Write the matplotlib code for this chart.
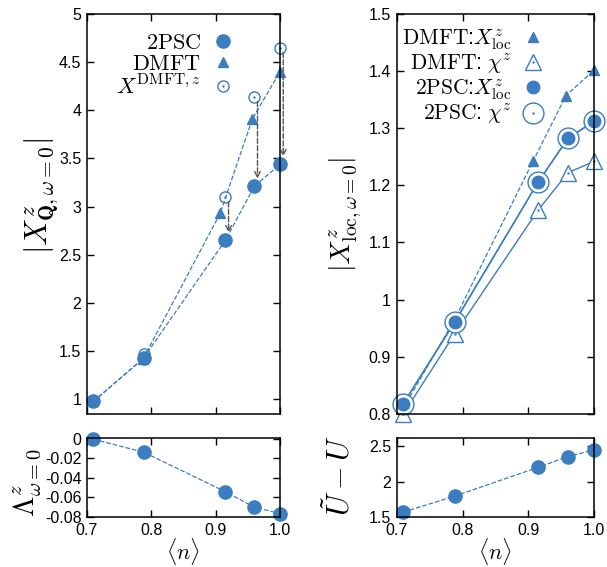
import numpy as np
import matplotlib
matplotlib.use('Agg')
import matplotlib.pyplot as plt
from matplotlib.legend_handler import HandlerTuple

plt.rcParams['font.family'] = ['Liberation Sans', 'DejaVu Sans']
plt.rcParams['mathtext.fontset'] = 'cm'

C = '#3b7dc0'

# 데이터
n_2psc = [0.71, 0.788, 0.915, 0.96, 1.0]
n_dmft = [0.71, 0.787, 0.907, 0.957, 1.0]

chiQ_2psc = [0.98, 1.43, 2.65, 3.21, 3.44]
chiQ_dmft = [0.98, 1.42, 2.93, 3.91, 4.40]
chiQ_xdmft = [0.98, 1.47, 3.10, 4.14, 4.65]

lam = [-0.0003, -0.0135, -0.054, -0.070, -0.0765]

xloc_dmft = [0.81, 0.963, 1.242, 1.357, 1.402]
chi_dmft = [0.80, 0.94, 1.157, 1.222, 1.242]
xloc_2psc = [0.818, 0.960, 1.206, 1.282, 1.312]
chi_2psc = [0.818, 0.961, 1.206, 1.282, 1.313]

ut_minus_u = [1.57, 1.795, 2.205, 2.357, 2.452]

xticks = [0.7, 0.8, 0.9, 1.0]

fig = plt.figure(figsize=(6.07, 5.67), dpi=100)
ax1 = fig.add_axes([0.1433, 0.270, 0.318, 0.7055])
ax2 = fig.add_axes([0.1433, 0.0882, 0.318, 0.1393])
ax3 = fig.add_axes([0.6535, 0.270, 0.3255, 0.7055])
ax4 = fig.add_axes([0.6535, 0.0882, 0.3255, 0.1393])

TUP = {tuple: HandlerTuple(ndivide=1, pad=0)}


def style(ax):
    ax.tick_params(direction='in', top=True, right=True, labelsize=11.5, length=5, width=1, pad=4)
    for s in ax.spines.values():
        s.set_linewidth(1.1)
    ax.set_xlim(0.7, 1.0)
    ax.set_xticks(xticks)


# 왼쪽 위
style(ax1)
ax1.plot(n_2psc, chiQ_2psc, '--', color=C, lw=0.9, clip_on=False)
ax1.plot(n_dmft, chiQ_dmft, '--', color=C, lw=0.9, clip_on=False)
h1, = ax1.plot(n_2psc, chiQ_2psc, 'o', color=C, ms=9.5, ls='none', clip_on=False)
h2, = ax1.plot(n_dmft, chiQ_dmft, '^', color=C, ms=6.5, ls='none', clip_on=False)
h3a, = ax1.plot(n_2psc, chiQ_xdmft, 'o', mfc='none', mec=C, ms=8, mew=1.0, ls='none', clip_on=False)
h3b, = ax1.plot(n_2psc, chiQ_xdmft, '.', color=C, ms=1.5, ls='none', clip_on=False)
for i in [2, 3, 4]:
    xa = n_2psc[i] + 0.005
    ax1.annotate('', xy=(xa, chiQ_2psc[i] + 0.08), xytext=(xa, chiQ_xdmft[i] - 0.05),
                 arrowprops=dict(arrowstyle='->', ls='--', color='#555555', lw=1.0,
                                 shrinkA=0, shrinkB=0), annotation_clip=False)
ax1.set_ylim(0.85, 5)
yt = np.arange(1, 5.01, 0.5)
ax1.set_yticks(yt)
ax1.set_yticklabels(['%g' % v for v in yt])
ax1.set_xticklabels([])
ax1.set_ylabel(r'$|X^z_{\mathbf{Q},\omega=0}|$', fontsize=22)
ax1.yaxis.set_label_coords(-0.137, 0.545)
leg = ax1.legend([h1, h2, (h3a, h3b)],
                 [r'$\mathrm{2PSC}$', r'$\mathrm{DMFT}$', r'$X^{\mathrm{DMFT},z}$'],
                 handler_map=TUP,
                 loc='upper right', bbox_to_anchor=(0.82, 0.985), frameon=False,
                 markerfirst=False, fontsize=16, handlelength=0.8, handletextpad=0.6,
                 labelspacing=0.0, borderaxespad=0.2)
for t in leg.get_texts():
    t.set_ha('right')

# 왼쪽 아래
style(ax2)
ax2.plot(n_2psc, lam, '--', color=C, lw=0.9, clip_on=False)
ax2.plot(n_2psc, lam, 'o', color=C, ms=9.5, clip_on=False)
ax2.set_ylim(-0.08, 0.001)
ax2.set_yticks([0, -0.02, -0.04, -0.06, -0.08])
ax2.set_yticklabels(['0', '-0.02', '-0.04', '-0.06', '-0.08'])
ax2.set_xticklabels(['0.7', '0.8', '0.9', '1.0'])
ax2.set_ylabel(r'$\Lambda^z_{\omega=0}$', fontsize=21)
ax2.yaxis.set_label_coords(-0.228, 0.43)
ax2.set_xlabel(r'$\langle n\rangle$', fontsize=16, labelpad=-1)

# 오른쪽 위
style(ax3)
ax3.plot(n_dmft, xloc_dmft, '--', color=C, lw=0.9, clip_on=False)
ax3.plot(n_2psc, chi_dmft, '-', color=C, lw=1.0, clip_on=False)
ax3.plot(n_2psc, xloc_2psc, '-', color=C, lw=1.0, clip_on=False)
ax3.plot(n_2psc, chi_2psc, '-', color=C, lw=1.0, clip_on=False)
g1, = ax3.plot(n_dmft, xloc_dmft, '^', color=C, ms=7, ls='none', clip_on=False)
g2a, = ax3.plot(n_2psc, chi_dmft, '^', mfc='white', mec=C, ms=12, mew=1.0, ls='none', clip_on=False)
g2b, = ax3.plot(n_2psc, chi_dmft, '.', color=C, ms=1.5, ls='none', clip_on=False)
g4a, = ax3.plot(n_2psc, chi_2psc, 'o', mfc='white', mec=C, ms=15, mew=1.0, ls='none', clip_on=False)
g4b, = ax3.plot(n_2psc, chi_2psc, '.', color=C, ms=1.5, ls='none', clip_on=False)
g3, = ax3.plot(n_2psc, xloc_2psc, 'o', color=C, ms=9, ls='none', clip_on=False)
ax3.set_ylim(0.8, 1.5)
yt3 = np.arange(0.8, 1.501, 0.1)
ax3.set_yticks(yt3)
ax3.set_yticklabels(['%g' % round(v, 1) for v in yt3])
ax3.set_xticklabels([])
ax3.set_ylabel(r'$|X^z_{\mathrm{loc},\omega=0}|$', fontsize=20)
ax3.yaxis.set_label_coords(-0.172, 0.4975)
leg3 = ax3.legend([g1, (g2a, g2b), g3, (g4a, g4b)],
                  [r'$\mathrm{DMFT}$:$X^z_{\mathrm{loc}}$', r'$\mathrm{DMFT}$: $\chi^z$',
                   r'$\mathrm{2PSC}$:$X^z_{\mathrm{loc}}$', r'$\mathrm{2PSC}$: $\chi^z$'],
                  handler_map=TUP,
                  loc='upper right', bbox_to_anchor=(0.8, 0.995), frameon=False,
                  markerfirst=False, fontsize=15.5, handlelength=1.0, handletextpad=0.5,
                  labelspacing=0.05, borderaxespad=0.1)
for t in leg3.get_texts():
    t.set_ha('right')

# 오른쪽 아래
style(ax4)
ax4.plot(n_2psc, ut_minus_u, '--', color=C, lw=0.9, clip_on=False)
ax4.plot(n_2psc, ut_minus_u, 'o', color=C, ms=9.5, clip_on=False)
ax4.set_ylim(1.5, 2.62)
ax4.set_yticks([1.5, 2, 2.5])
ax4.set_yticklabels(['1.5', '2', '2.5'])
ax4.set_xticklabels(['0.7', '0.8', '0.9', '1.0'])
ax4.set_ylabel(r'$\tilde{U}-U$', fontsize=22)
ax4.yaxis.set_label_coords(-0.202, 0.52)
ax4.set_xlabel(r'$\langle n\rangle$', fontsize=16, labelpad=-1)

fig.savefig('out.png', dpi=100)
